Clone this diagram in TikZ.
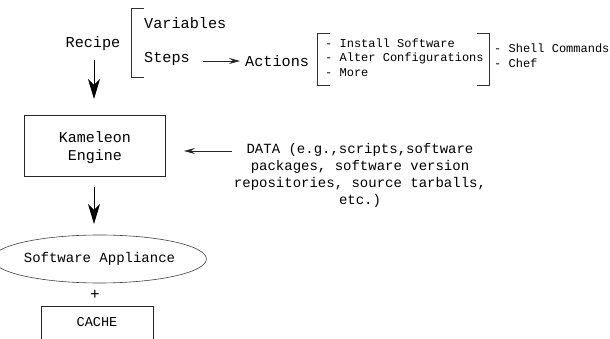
\documentclass[tikz,border=0pt]{standalone}
\usepackage{fontspec}
\setmainfont{Liberation Mono}
\usetikzlibrary{shapes.geometric,arrows.meta}
\tikzset{
  lbl/.style={inner sep=0pt, font=\fontsize{15.2}{17}\selectfont, text height=1.45ex, text depth=0.35ex},
  small/.style={inner sep=0pt, font=\fontsize{12}{14}\selectfont, text height=1.45ex, text depth=0.35ex, anchor=west},
  brk/.style={draw=black!80, line width=0.8pt},
  bigarrow/.style={draw=black, line width=0.9pt, -{Stealth[length=20pt,width=12pt,inset=6pt]}},
  smallarrow/.style={draw=black!85, line width=0.7pt, -{Stealth[length=11pt,width=6pt,inset=4pt]}},
  boxed/.style={draw=black!85, line width=0.7pt, rectangle, inner sep=0pt}
}
\begin{document}
\begin{tikzpicture}[x=1pt,y=-1pt]
\useasboundingbox (0,0) rectangle (610,339);
\clip (0,0) rectangle (610,339);
% top labels
\node[lbl] (recipe) at (93,45) {Recipe};
\node[lbl,anchor=west] (vars) at (144,26) {Variables};
\node[lbl,anchor=west] (steps) at (144,60) {Steps};
\node[lbl,anchor=west] (actions) at (245,64) {Actions};
% bracket after Recipe
\draw[brk] (144,8) -- (131,8) -- (131,77) -- (144,77);
% Steps -> Actions
\coordinate (sa1) at (203,61);
\coordinate (sa2) at (240,61);
\draw[smallarrow] (sa1) -- (sa2);
% action list
\draw[brk] (330,33) -- (317,33) -- (317,85) -- (330,85);
\node[small] (inst) at (325,45) {- Install Software};
\node[small] (alter) at (325,59) {- Alter Configurations};
\node[small] (more) at (325,74) {- More};
\draw[brk] (477,33) -- (489,33) -- (489,85) -- (477,85);
\node[small] (shell) at (494,50) {- Shell Commands};
\node[small] (chef) at (494,65) {- Chef};
% down arrow 1
\coordinate (d1a) at (94,60);
\coordinate (d1b) at (94,99);
\draw[bigarrow] (d1a) -- (d1b);
% engine box
\node[boxed, minimum width=141pt, minimum height=61pt] (engine) at (95,145.5) {};
\node[lbl, font=\fontsize{15}{18.5}\selectfont] (engtext1) at (95,140) {Kameleon};
\node[lbl, font=\fontsize{15}{18.5}\selectfont] (engtext2) at (95,158) {Engine};
% data
\node[lbl, align=center, font=\fontsize{14}{17}\selectfont, text height=, text depth=, anchor=north] (data) at (360,143) {DATA (e.g.,scripts,software\\packages, software version\\repositories, source tarballs,\\etc.)};
\coordinate (da1) at (232,151);
\coordinate (da2) at (184,151);
\draw[smallarrow] (da1) -- (da2);
% down arrow 2
\coordinate (d2a) at (94,187);
\coordinate (d2b) at (94,224);
\draw[bigarrow] (d2a) -- (d2b);
% appliance
\node[ellipse, draw=black!75, line width=0.6pt, minimum width=175pt, minimum height=48pt, inner sep=0pt, font=\fontsize{14}{16}\selectfont] (app) at (99.5,259) {Software Appliance};
\node[lbl, font=\fontsize{16}{17}\selectfont] (plus) at (95,297) {+};
\node[boxed, minimum width=112pt, minimum height=44pt, anchor=north] (cache) at (97,306) {};
\node[lbl, font=\fontsize{13.6}{16}\selectfont] (cachetext) at (97,324) {CACHE};
\end{tikzpicture}
\end{document}
